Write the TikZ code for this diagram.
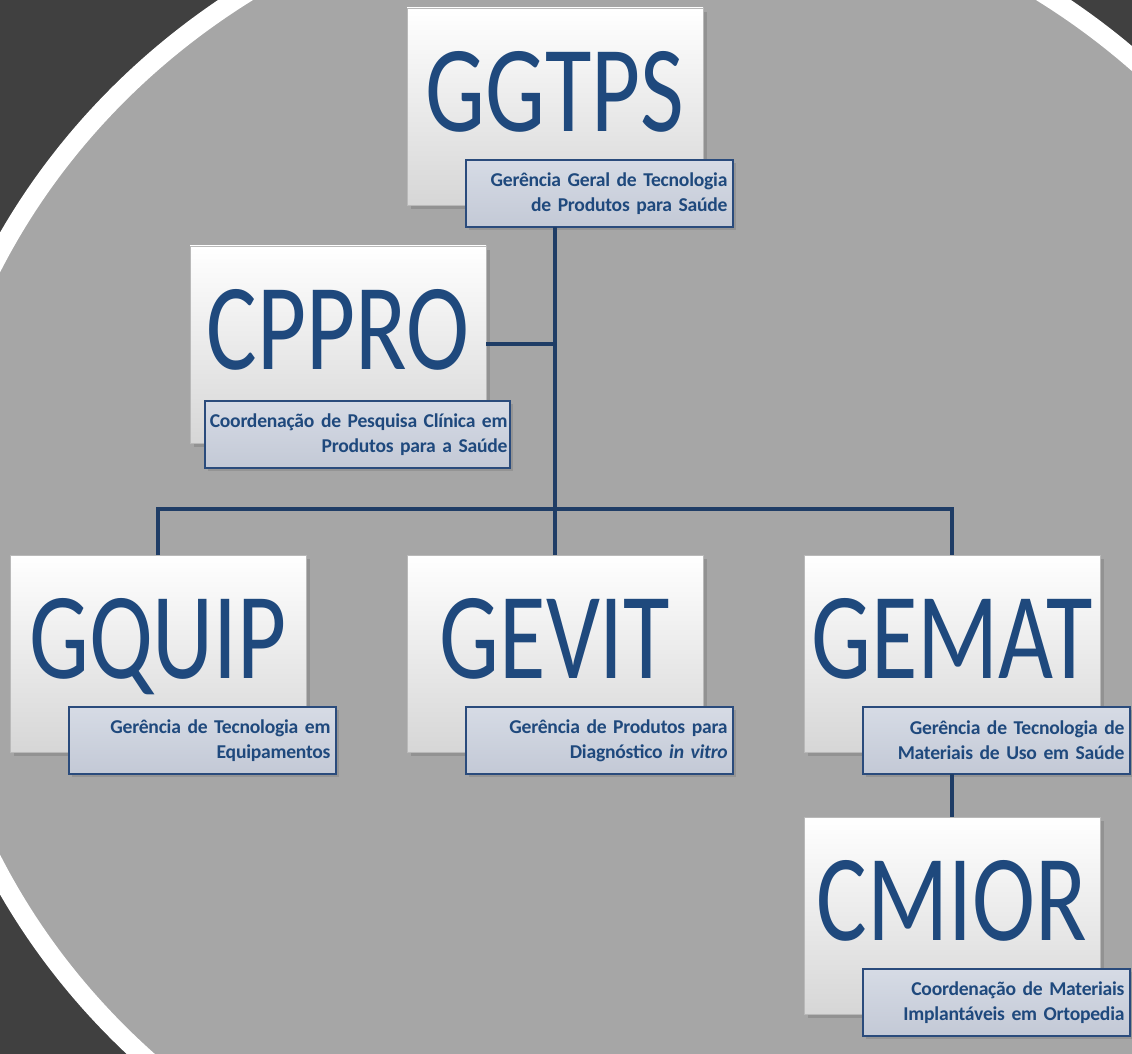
\documentclass[tikz,border=0pt]{standalone}
\usepackage{fontspec}
\setmainfont{Carlito}
\newfontfamily\acrofont[FakeStretch=0.77]{Carlito}
\newfontfamily\descfont[WordSpace=0.8,LetterSpace=-1.2]{Carlito}
\usetikzlibrary{positioning,shadows}

\definecolor{bgdark}{HTML}{404040}
\definecolor{disc}{HTML}{A6A6A6}
\definecolor{ink}{HTML}{1F497D}
\definecolor{linkblue}{HTML}{1F3D66}
\definecolor{desctop}{HTML}{D6DBE5}
\definecolor{descbot}{HTML}{C3C9D6}
\definecolor{descline}{HTML}{2A4B7C}

\tikzset{
  unit/.style={rectangle, minimum width=148pt, minimum height=98.5pt,
    inner sep=0pt, outer sep=0pt, top color=white, bottom color=gray!32,
    draw=gray!55, line width=0.4pt,
    drop shadow={shadow xshift=2pt,shadow yshift=-2pt,opacity=0.5},
    text=ink, font=\acrofont\fontsize{61.7pt}{70pt}\selectfont,
    text height=39pt, text depth=14pt},
  desc/.style={rectangle, minimum width=133.5pt, minimum height=33.5pt,
    text width=128pt, align=right, inner xsep=2.75pt, inner ysep=0pt,
    outer sep=0pt, top color=desctop, bottom color=descbot,
    draw=descline, line width=1pt,
    drop shadow={shadow xshift=1.5pt,shadow yshift=-1.5pt,opacity=0.45},
    text=ink, font=\descfont\fontsize{9.8pt}{12.5pt}\selectfont\bfseries},
  link/.style={draw=linkblue, line width=2pt}
}

\begin{document}
\begin{tikzpicture}[x=0.5pt,y=-0.5pt]
\useasboundingbox (0,0) rectangle (1132,1054);
\clip (0,0) rectangle (1132,1054);

% backdrop
\fill[bgdark] (0,0) rectangle (1132,1054);
\draw[white,line width=9.5pt,fill=disc] (644.5,563.5) ellipse [x radius=362pt, y radius=341.5pt];

% top
\node[unit] (ggtps) at (555,106.5) {GGTPS};
\node[desc, below left=-22.5pt and -15pt of ggtps.south east] (ggtpsd) {Gerência Geral de Tecnologia\\de Produtos para Saúde};

\node[unit] (cppro) at (338,344.5) {CPPRO};
\node[desc, minimum width=152.5pt, text width=150pt, inner xsep=1.25pt, below left=-21pt and -12pt of cppro.south east] (cpprod) {Coordenação de Pesquisa Clínica em\\Produtos para a Saúde};

% second row
\node[unit] (gquip) at (158,653.5) {GQUIP};
\node[desc, below left=-22.5pt and -15pt of gquip.south east] (gquipd) {Gerência de Tecnologia em\\Equipamentos};

\node[unit] (gevit) at (555,653.5) {GEVIT};
\node[desc, below left=-22.5pt and -15pt of gevit.south east] (gevitd) {Gerência de Produtos para\\Diagnóstico \textit{in vitro}};

\node[unit] (gemat) at (952,653.5) {GEMAT};
\node[desc, below left=-22.5pt and -15pt of gemat.south east] (gematd) {Gerência de Tecnologia de\\Materiais de Uso em Saúde};

\node[unit] (cmior) at (952,915.5) {CMIOR};
\node[desc, below left=-22.5pt and -15pt of cmior.south east] (cmiord) {Coordenação de Materiais\\Implantáveis em Ortopedia};

% links
\coordinate (bus) at (555,509);
\draw[link] (ggtps.south |- ggtpsd.south) -- (bus);
\draw[link] (cppro.east) -- (cppro.east -| bus);
\draw[link] (gquip.north) |- (bus) -| (gemat.north);
\draw[link] (gevit.north) -- (gevit.north |- bus);
\draw[link] (gemat.south |- gematd.south) -- (cmior.north);

\end{tikzpicture}
\end{document}
